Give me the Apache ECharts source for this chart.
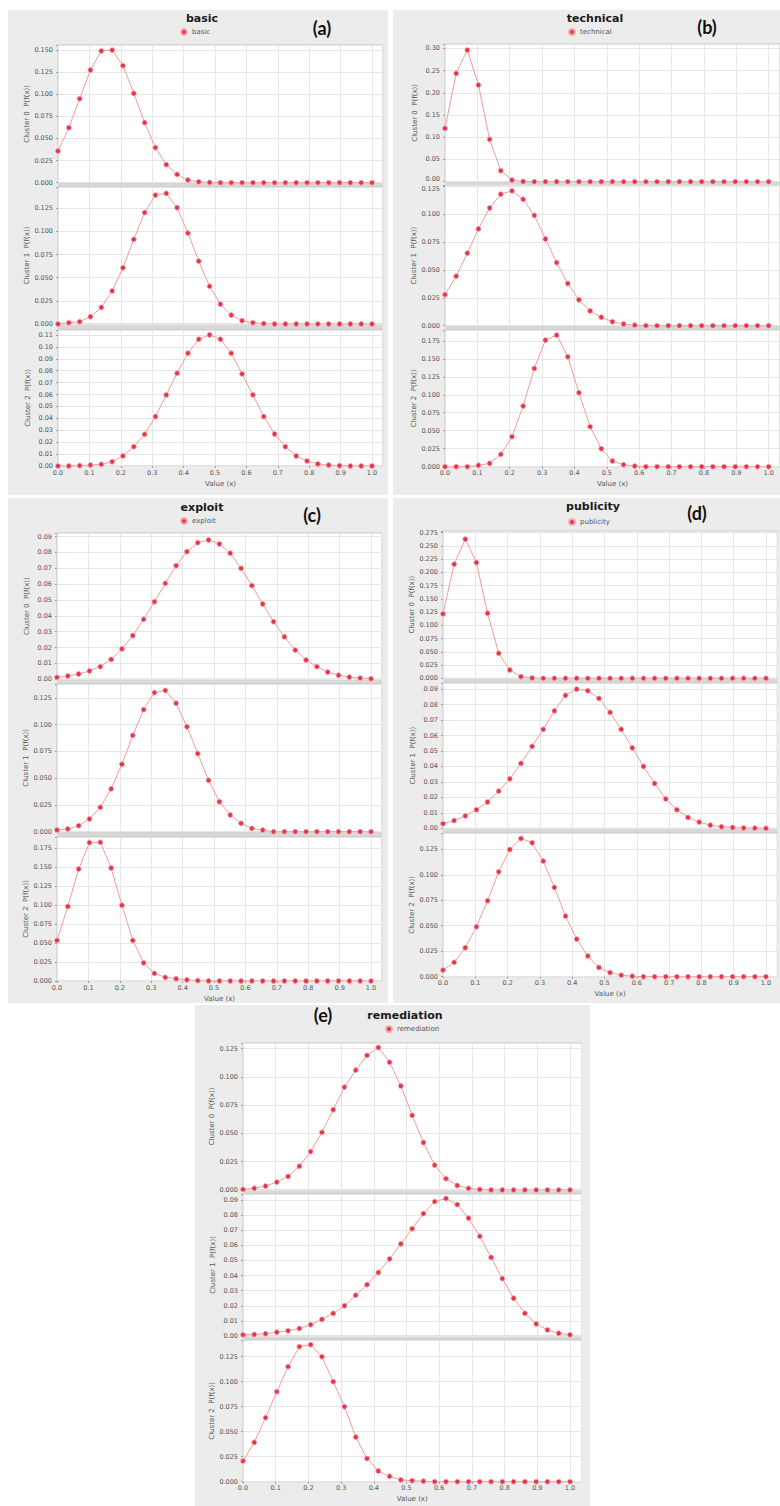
<!DOCTYPE html>
<html><head><meta charset="utf-8">
<script src="https://cdn.jsdelivr.net/npm/echarts@6/dist/echarts.min.js"></script>
<style>html,body{margin:0;padding:0;background:#fff}#c{width:780px;height:1506px}</style>
</head><body><div id="c"></div>
<script>
// x positions of the 30 bins
const xValues = [0, 0.0345, 0.0690, 0.1034, 0.1379, 0.1724, 0.2069, 0.2414, 0.2759, 0.3103,
  0.3448, 0.3793, 0.4138, 0.4483, 0.4828, 0.5172, 0.5517, 0.5862, 0.6207, 0.6552,
  0.6897, 0.7241, 0.7586, 0.7931, 0.8276, 0.8621, 0.8966, 0.9310, 0.9655, 1.0];
const xTicks = ['0.0','0.1','0.2','0.3','0.4','0.5','0.6','0.7','0.8','0.9','1.0'];
const clusterNames = ['Cluster 0  P(f(x))', 'Cluster 1  P(f(x))', 'Cluster 2  P(f(x))'];
const seriesNames = ['basic', 'technical', 'exploit', 'publicity', 'remediation'];
const panelTags = ['(a)', '(b)', '(c)', '(d)', '(e)'];

const basic0 = [0.0358, 0.0622, 0.095, 0.1274, 0.149, 0.150, 0.1323, 0.101, 0.0679, 0.0396,
  0.0204, 0.0094, 0.003, 0.001, 0.0003, 0, 0, 0, 0, 0, 0, 0, 0, 0, 0, 0, 0, 0, 0, 0];
const basic1 = [0, 0.0014, 0.0025, 0.0079, 0.0179, 0.0357, 0.0607, 0.0914, 0.1204, 0.1393,
  0.1411, 0.1257, 0.0982, 0.0679, 0.0407, 0.0214, 0.0096, 0.0036, 0.0014, 0.0004, 0, 0, 0, 0, 0, 0, 0, 0, 0, 0];
const basic2 = [0, 0, 0.0003, 0.0008, 0.0014, 0.0036, 0.0084, 0.0162, 0.0266, 0.0415,
  0.0597, 0.0779, 0.0947, 0.1064, 0.1101, 0.1064, 0.0947, 0.0773, 0.0597, 0.0415,
  0.0269, 0.0162, 0.0084, 0.0042, 0.0017, 0.0008, 0.0003, 0, 0, 0];
const technical0 = [0.12, 0.2436, 0.2961, 0.2174, 0.0952, 0.0247, 0.0037, 0.0005, 0, 0,
  0, 0, 0, 0, 0, 0, 0, 0, 0, 0, 0, 0, 0, 0, 0, 0, 0, 0, 0, 0];
const technical1 = [0.0279, 0.0445, 0.0652, 0.087, 0.1058, 0.1182, 0.1212, 0.1136, 0.0991, 0.0779,
  0.0567, 0.0379, 0.0233, 0.0133, 0.0076, 0.0036, 0.0015, 0.0005, 0, 0, 0, 0, 0, 0, 0, 0, 0, 0, 0, 0];
const technical2 = [0, 0, 0, 0.0019, 0.0046, 0.0171, 0.0417, 0.0843, 0.1366, 0.1759,
  0.1829, 0.1528, 0.1028, 0.0556, 0.025, 0.0079, 0.0028, 0.0009, 0, 0, 0, 0, 0, 0, 0, 0, 0, 0, 0, 0];
const exploit0 = [0.0012, 0.002, 0.0033, 0.0052, 0.0079, 0.0125, 0.0191, 0.0275, 0.0378, 0.0489,
  0.0605, 0.0717, 0.0805, 0.0862, 0.0879, 0.0854, 0.0795, 0.07, 0.0591, 0.0475,
  0.0363, 0.0268, 0.0184, 0.0121, 0.0079, 0.0045, 0.0025, 0.0013, 0.0007, 0.0003];
const exploit1 = [0.0016, 0.0025, 0.0056, 0.0119, 0.0228, 0.040, 0.063, 0.090, 0.114, 0.130,
  0.132, 0.120, 0.098, 0.073, 0.048, 0.028, 0.0156, 0.0078, 0.0031, 0.0015, 0, 0, 0, 0, 0, 0, 0, 0, 0, 0];
const exploit2 = [0.0535, 0.0983, 0.1478, 0.1826, 0.183, 0.1491, 0.1, 0.0535, 0.0239, 0.01,
  0.0048, 0.003, 0.0015, 0.0005, 0, 0, 0, 0, 0, 0, 0, 0, 0, 0, 0, 0, 0, 0, 0, 0];
const publicity0 = [0.1215, 0.2154, 0.2626, 0.2185, 0.1228, 0.0472, 0.0157, 0.003, 0.0005, 0,
  0, 0, 0, 0, 0, 0, 0, 0, 0, 0, 0, 0, 0, 0, 0, 0, 0, 0, 0, 0];
const publicity1 = [0.003, 0.005, 0.008, 0.012, 0.017, 0.024, 0.032, 0.042, 0.053, 0.064,
  0.076, 0.086, 0.090, 0.089, 0.084, 0.075, 0.064, 0.052, 0.040, 0.029,
  0.019, 0.012, 0.007, 0.004, 0.002, 0.001, 0.0005, 0.0002, 0.0001, 0];
const publicity2 = [0.0065, 0.0141, 0.0284, 0.049, 0.0745, 0.1029, 0.1248, 0.1356, 0.1314, 0.1134,
  0.0876, 0.0595, 0.0369, 0.0203, 0.009, 0.004, 0.0015, 0.0005, 0, 0, 0, 0, 0, 0, 0, 0, 0, 0, 0, 0];
const remediation0 = [0.0005, 0.0015, 0.0035, 0.007, 0.012, 0.021, 0.034, 0.051, 0.071, 0.091,
  0.106, 0.119, 0.126, 0.113, 0.092, 0.066, 0.042, 0.022, 0.010, 0.004,
  0.0015, 0.0005, 0, 0, 0, 0, 0, 0, 0, 0];
const remediation1 = [0.0008, 0.001, 0.0015, 0.0025, 0.0035, 0.005, 0.0075, 0.011, 0.015, 0.020,
  0.027, 0.034, 0.042, 0.051, 0.061, 0.071, 0.081, 0.089, 0.091, 0.087,
  0.078, 0.066, 0.052, 0.038, 0.025, 0.015, 0.008, 0.004, 0.0018, 0.0008];
const remediation2 = [0.0207, 0.0393, 0.064, 0.090, 0.115, 0.135, 0.137, 0.125, 0.100, 0.075,
  0.0446, 0.0232, 0.0107, 0.0054, 0.0018, 0.001, 0.0005, 0, 0, 0, 0, 0, 0, 0, 0, 0, 0, 0, 0, 0];

const panelData = [
  [basic0, basic1, basic2],
  [technical0, technical1, technical2],
  [exploit0, exploit1, exploit2],
  [publicity0, publicity1, publicity2],
  [remediation0, remediation1, remediation2]
];

// ---------- layout (pixels) ----------
const X_MAX = 1.035;
const LAYOUT = [
  { bg: [8, 10, 380, 485], title: [202, 18], legend: [180, 28], tag: [322, 28], x0: 58, unit: 314,
    subs: [ { top: 45, zero: 182.7, max: 0.1557, step: 0.025, dec: 3 },
            { top: 187, zero: 324, max: 0.148, step: 0.025, dec: 3 },
            { top: 330, zero: 466, max: 0.1142, step: 0.01, dec: 2 } ] },
  { bg: [393, 10, 387, 485], title: [595, 18], legend: [568, 28], tag: [707, 27], x0: 445, unit: 325,
    subs: [ { top: 44, zero: 181.7, max: 0.3097, step: 0.05, dec: 2, zeroUp: true },
            { top: 185.5, zero: 325.7, max: 0.126, step: 0.025, dec: 3, topDown: true },
            { top: 330, zero: 466.7, max: 0.19, step: 0.025, dec: 3 } ] },
  { bg: [8, 498, 380, 505], title: [202, 507], legend: [180, 517], tag: [312, 515], x0: 57, unit: 314,
    subs: [ { top: 533, zero: 679.2, max: 0.0923, step: 0.01, dec: 2 },
            { top: 684, zero: 831.7, max: 0.138, step: 0.025, dec: 3 },
            { top: 837, zero: 981, max: 0.19, step: 0.025, dec: 3 } ] },
  { bg: [393, 498, 387, 505], title: [593, 506], legend: [568, 518], tag: [697, 513], x0: 443, unit: 323,
    subs: [ { top: 531, zero: 678.3, max: 0.278, step: 0.025, dec: 3 },
            { top: 683, zero: 828.3, max: 0.094, step: 0.01, dec: 2 },
            { top: 833, zero: 976.7, max: 0.141, step: 0.025, dec: 3 } ] },
  { bg: [195, 1005, 395, 501], title: [405, 1015], legend: [385, 1025], tag: [323, 1015], x0: 243, unit: 327,
    subs: [ { top: 1043, zero: 1190, max: 0.13, step: 0.025, dec: 3 },
            { top: 1194, zero: 1336, max: 0.094, step: 0.01, dec: 2 },
            { top: 1340, zero: 1481.7, max: 0.1417, step: 0.025, dec: 3 } ] }
];

const FONT = 'DejaVu Sans, sans-serif';
const LABEL_SIZE = 6.5;
function fmt(s) {
  return function (v) {
    const k = v / s.step;
    if (Math.abs(k - Math.round(k)) > 1e-6) return '';
    const t = v.toFixed(s.dec);
    if (s.zeroUp && Math.abs(v) < 1e-9) return '{up|' + t + '}';
    if (s.topDown && Math.abs(v - Math.floor(s.max / s.step + 1e-9) * s.step) < 1e-9) return '{down|' + t + '}';
    return t;
  };
}
function xfmt(v) {
  const k = Math.round(v * 10);
  return Math.abs(v * 10 - k) < 1e-6 && k >= 0 && k < xTicks.length ? xTicks[k] : '';
}
const labelRich = {
  up: { fontSize: LABEL_SIZE, color: '#555', fontFamily: FONT, padding: [0, 0, 5, 0] },
  down: { fontSize: LABEL_SIZE, color: '#555', fontFamily: FONT, padding: [5, 0, 0, 0] }
};

const grids = [], xAxes = [], yAxes = [], series = [], legends = [], graphics = [];

LAYOUT.forEach(function (p, pi) {
  graphics.push({ type: 'rect', z: -10, silent: true,
    shape: { x: p.bg[0], y: p.bg[1], width: p.bg[2], height: p.bg[3] },
    style: { fill: '#ececec' } });
  // darker band visible between the stacked sub-plots
  const first = p.subs[0], lastS = p.subs[2];
  graphics.push({ type: 'rect', z: -9, silent: true,
    shape: { x: p.x0, y: first.top, width: p.unit * X_MAX, height: lastS.zero - first.top },
    style: { fill: '#d8d8d8' } });
  graphics.push({ type: 'text', z: 10, silent: true, x: p.title[0], y: p.title[1],
    style: { text: seriesNames[pi], fill: '#1a1a1a', font: 'bold 11px ' + FONT,
      textAlign: 'center', textVerticalAlign: 'middle' } });
  graphics.push({ type: 'text', z: 10, silent: true, x: p.tag[0], y: p.tag[1],
    style: { text: panelTags[pi], fill: '#111', font: 'bold 18px Lato, sans-serif',
      textAlign: 'center', textVerticalAlign: 'middle' } });
  legends.push({ data: [seriesNames[pi]], left: p.legend[0], top: p.legend[1], icon: 'circle',
    itemWidth: 6, itemHeight: 6, itemGap: 4, selectedMode: false, padding: 0,
    textStyle: { fontSize: 7, color: '#555', fontFamily: FONT } });

  p.subs.forEach(function (s, si) {
    const gi = grids.length;
    const last = si === 2;
    grids.push({ left: p.x0, top: s.top, width: p.unit * X_MAX, height: s.zero - s.top,
      show: true, backgroundColor: '#ffffff', borderColor: '#c4c4c4', borderWidth: 1 });
    xAxes.push({ gridIndex: gi, type: 'value', min: 0, max: X_MAX, interval: 0.1,
      axisLine: { show: false },
      axisTick: { show: last, length: 2, lineStyle: { color: '#999' } },
      axisLabel: { show: last, formatter: xfmt, fontSize: LABEL_SIZE, color: '#555', margin: 3, fontFamily: FONT,
        showMaxLabel: false },
      splitLine: { show: true, lineStyle: { color: '#e6e6e6', width: 1 } },
      name: last ? 'Value (x)' : '', nameLocation: 'middle', nameGap: 14,
      nameTextStyle: { fontSize: 7, color: '#555', fontFamily: FONT } });
    yAxes.push({ gridIndex: gi, type: 'value', min: 0, max: s.max, interval: s.step,
      axisLine: { show: false },
      axisTick: { show: true, length: 2, lineStyle: { color: '#999' } },
      axisLabel: { formatter: fmt(s), fontSize: LABEL_SIZE, color: '#555', margin: 5, fontFamily: FONT,
        showMaxLabel: true, rich: labelRich },
      splitLine: { show: true, lineStyle: { color: '#e6e6e6', width: 1 } },
      name: clusterNames[si], nameLocation: 'middle', nameRotate: 90, nameGap: 27,
      nameTextStyle: { fontSize: 7, color: '#555', fontFamily: FONT } });
    series.push({ type: 'line', name: seriesNames[pi], xAxisIndex: gi, yAxisIndex: gi,
      data: xValues.map(function (x, i) { return [x, panelData[pi][si][i]]; }),
      symbol: 'circle', symbolSize: 5, showSymbol: true, silent: true,
      lineStyle: { color: '#f49a9f', width: 1 },
      itemStyle: { color: '#e5354b', borderColor: '#f7a9b1', borderWidth: 0.8 } });
  });
});

const chart = echarts.init(document.getElementById('c'), null, { renderer: 'svg', width: 780, height: 1506 });
chart.setOption({
  animation: false,
  backgroundColor: '#ffffff',
  color: ['#e5354b'],
  grid: grids, xAxis: xAxes, yAxis: yAxes, series: series, legend: legends,
  graphic: { elements: graphics }
});
</script></body></html>
